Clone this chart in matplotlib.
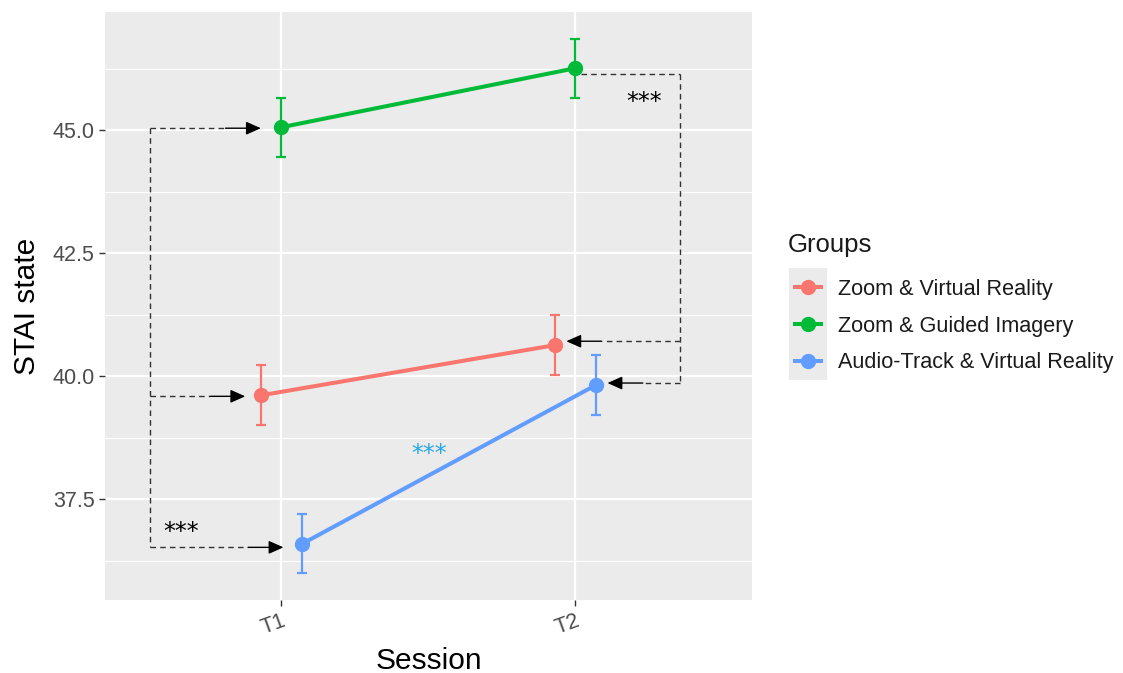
import numpy as np
import matplotlib
matplotlib.use('Agg')
from matplotlib import pyplot as plt
from matplotlib.lines import Line2D
from matplotlib.patches import Rectangle

plt.rcParams['font.family'] = ['Liberation Sans', 'DejaVu Sans']

sessions = ['T1', 'T2']
groups = ['Zoom & Virtual Reality', 'Zoom & Guided Imagery', 'Audio-Track & Virtual Reality']
colors = ['#F8766D', '#00BA38', '#619CFF']
mean_vr = [39.61, 40.63]
mean_gi = [45.06, 46.26]
mean_at = [36.59, 39.82]
se_vr = [0.61, 0.61]
se_gi = [0.60, 0.60]
se_at = [0.60, 0.60]
means = [mean_vr, mean_gi, mean_at]
errs = [se_vr, se_gi, se_at]
dodge = [-0.07, 0.0, 0.07]

fig = plt.figure(figsize=(11.23, 6.73), dpi=100)
ax = fig.add_axes([0.0935, 0.1085, 0.576, 0.8735])
ax.set_facecolor('#EBEBEB')

x = np.arange(1, len(sessions) + 1)
for m, e, c, d in zip(means, errs, colors, dodge):
    ax.errorbar(x + d, m, yerr=e, color=c, lw=2.9, marker='o', ms=10,
                elinewidth=1.6, capsize=3.6, capthick=1.6, zorder=3)

# annotations (dashed brackets)
dk = '#333333'
dash = dict(ls=(0, (4, 3)), color=dk, lw=1)
ax.plot([0.553, 0.553], [45.04, 36.52], **dash)
ax.plot([2.355, 2.355], [46.14, 39.86], **dash)
ax.plot([2.02, 2.355], [46.14, 46.14], **dash)
arrows = [(0.553, 0.93, 45.04), (0.553, 0.877, 39.59), (0.553, 1.007, 36.52),
          (2.355, 1.969, 40.71), (2.355, 2.109, 39.86)]
for x0, x1, yy in arrows:
    mid = x1 - np.sign(x1 - x0) * 0.12
    ax.plot([x0, mid], [yy, yy], **dash)
    ax.annotate('', xy=(x1, yy), xytext=(mid, yy),
                arrowprops=dict(arrowstyle='-|>,head_length=0.9,head_width=0.4',
                                color='black', lw=1, shrinkA=0, shrinkB=0))
star = dict(fontsize=17, ha='center', va='baseline', family='DejaVu Sans')
ax.text(0.659, 36.69, '***', **star)
ax.text(2.235, 45.43, '***', **star)
ax.text(1.502, 38.28, '***', color='#29A8E6', **star)

ax.set_xlim(0.4, 2.6)
ax.set_ylim(35.45, 47.4)
ax.set_xticks(x)
ax.set_xticklabels(sessions, rotation=20, ha='right', va='top', rotation_mode='anchor')
ax.set_yticks([37.5, 40.0, 42.5, 45.0])
ax.set_yticklabels(['37.5', '40.0', '42.5', '45.0'])
ax.set_yticks([36.25, 38.75, 41.25, 43.75, 46.25], minor=True)
ax.grid(True, which='major', color='white', lw=1.6)
ax.grid(True, which='minor', axis='y', color='white', lw=0.8)
ax.set_axisbelow(True)
ax.tick_params(which='major', colors='#333333', length=4, width=1, labelsize=15.5,
               labelcolor='#4D4D4D')
ax.tick_params(which='minor', length=0)
for s in ax.spines.values():
    s.set_visible(False)
ax.set_xlabel('Session', fontsize=21.5, labelpad=6)
ax.set_ylabel('STAI state', fontsize=21.5, labelpad=8)

# legend
fig.patches.append(Rectangle((0.7026, 0.4354), 0.0338, 0.1664, transform=fig.transFigure,
                             facecolor='#EBEBEB', edgecolor='none', zorder=0))
fig.text(788 / 1123, 1 - 245 / 673, 'Groups', fontsize=18.5, color='#1A1A1A',
         ha='left', va='center')
handles = [Line2D([], [], color=c, lw=2.9, marker='o', ms=10) for c in colors]
leg = fig.legend(handles, groups, loc='center left', bbox_to_anchor=(0.6906, 1 - 326 / 673),
                 frameon=False, fontsize=15.6, handlelength=1.2, handletextpad=0.78,
                 labelspacing=0.73)
for t in leg.get_texts():
    t.set_color('#1A1A1A')

fig.savefig('out.png', dpi=100)
